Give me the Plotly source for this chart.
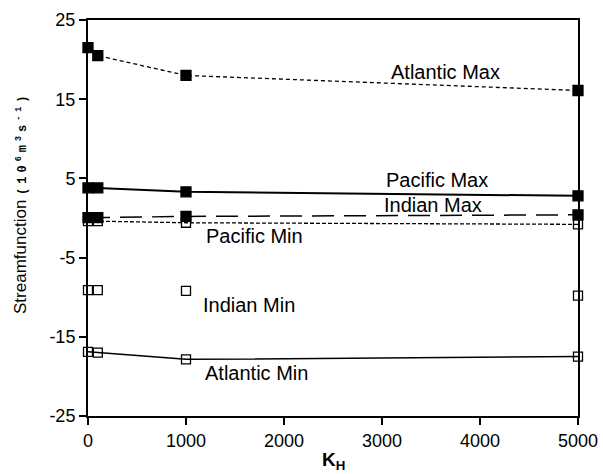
import plotly.graph_objects as go

# Horizontal diffusivity values
k_h = [0, 100, 1000, 5000]

# Overturning streamfunction extremes (Sv)
atlantic_max = [21.5, 20.5, 18.0, 16.1]
pacific_max = [3.8, 3.8, 3.3, 2.8]
indian_max = [0.05, 0.05, 0.2, 0.4]
pacific_min = [-0.4, -0.4, -0.6, -0.8]
indian_min = [-9.1, -9.1, -9.2, -9.8]
atlantic_min = [-16.9, -17.0, -17.85, -17.5]

series_names = ["Atlantic Max", "Pacific Max", "Indian Max",
                "Pacific Min", "Indian Min", "Atlantic Min"]

y_ticks = [25, 15, 5, -5, -15, -25]
y_tick_text = ["25", "15", "5", "-5", "-15", "-25"]
x_ticks = [0, 1000, 2000, 3000, 4000, 5000]

FONT = "Liberation Sans, Arial, sans-serif"
W, H = 603, 474
ML, MR, MT, MB = 88, 25, 20, 58

fig = go.Figure()

def add_series(y, name, filled, dash, width, show_line=True):
    fig.add_trace(go.Scatter(
        x=k_h, y=y, name=name,
        mode="lines+markers" if show_line else "markers",
        line=dict(color="black", width=width, dash=dash),
        marker=dict(symbol="square" if filled else "square-open",
                    size=10 if filled else 9,
                    color="black",
                    line=dict(color="black", width=1.3)),
        cliponaxis=False,
        showlegend=False,
    ))

add_series(atlantic_max, series_names[0], True, "4px,3px", 1.3)
add_series(pacific_max, series_names[1], True, "solid", 2)
add_series(indian_max, series_names[2], True, "22px,10px", 1.5)
add_series(pacific_min, series_names[3], False, "4px,2px", 1.3)
add_series(indian_min, series_names[4], False, "solid", 1, show_line=False)
add_series(atlantic_min, series_names[5], False, "solid", 1.5)

# Series labels placed beside their curves
label_pos = [(3650, 18.4), (3560, 4.8), (3520, 1.65),
             (1700, -2.3), (1640, -11.0), (1720, -19.6)]
for name, (lx, ly) in zip(series_names, label_pos):
    fig.add_annotation(x=lx, y=ly, text=name, showarrow=False,
                       font=dict(family=FONT, size=20, color="black"),
                       xanchor="center", yanchor="middle")

# Axis titles drawn as paper-anchored annotations (pixel-based offsets)
plot_w = W - ML - MR
plot_h = H - MT - MB

def px_to_paper_x(px):
    return (px - ML) / plot_w

def px_to_paper_y(py):
    return (H - MB - py) / plot_h

units = ("<span style='font-family:Liberation Mono, Courier New, monospace;"
         "font-size:12px;font-weight:bold;letter-spacing:4px'>"
         "(10<sup>6</sup>m<sup>3</sup>s<sup>-1</sup>)</span>")

fig.add_annotation(
    xref="paper", yref="paper",
    x=px_to_paper_x(20), y=px_to_paper_y(203),
    text="Streamfunction " + units,
    textangle=-90, showarrow=False,
    font=dict(family=FONT, size=17, color="black"),
    xanchor="center", yanchor="middle",
)
fig.add_annotation(
    xref="paper", yref="paper",
    x=px_to_paper_x(333), y=px_to_paper_y(461),
    text="<b>K<sub>H</sub></b>",
    showarrow=False,
    font=dict(family=FONT, size=19, color="black"),
    xanchor="center", yanchor="middle",
)

axis_common = dict(
    ticks="outside", ticklen=7, tickwidth=1.5, tickcolor="black",
    showline=True, linecolor="black", linewidth=2, mirror=True,
    showgrid=False, zeroline=False, automargin=False,
    tickfont=dict(family=FONT, size=18, color="black"),
)

fig.update_layout(
    width=W, height=H,
    margin=dict(l=ML, r=MR, t=MT, b=MB),
    paper_bgcolor="white", plot_bgcolor="white",
    font=dict(family=FONT, color="black"),
    xaxis=dict(range=[0, 5000], tickvals=x_ticks, **axis_common),
    yaxis=dict(range=[-25, 25], tickvals=y_ticks, ticktext=y_tick_text,
               **axis_common),
)

fig.write_html("out.html")
